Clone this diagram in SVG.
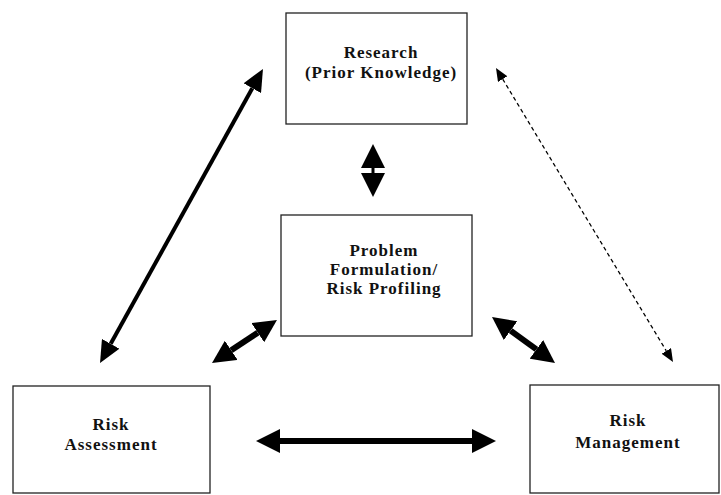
<svg xmlns="http://www.w3.org/2000/svg" width="721" height="495" viewBox="0 0 721 495">
<style>
.box{fill:#fff;stroke:#222;stroke-width:1.3}
.lbl{font-family:"Liberation Serif","Times New Roman",serif;font-weight:bold;font-size:17px;fill:#111;text-anchor:middle;letter-spacing:1px}
.c{stroke:#000;fill:none}
</style>
<defs>
<marker id="h20" markerUnits="userSpaceOnUse" viewBox="0 0 22 20" markerWidth="22" markerHeight="20" refX="0" refY="10" orient="auto-start-reverse"><path d="M0,0 L22,10 L0,20 z" fill="#000"/></marker>
<marker id="h12" markerUnits="userSpaceOnUse" viewBox="0 0 13 11" markerWidth="13" markerHeight="11" refX="0" refY="5.5" orient="auto-start-reverse"><path d="M0,0 L13,5.5 L0,11 z" fill="#000"/></marker>
<marker id="h22" markerUnits="userSpaceOnUse" viewBox="0 0 23 23" markerWidth="23" markerHeight="23" refX="0" refY="11.5" orient="auto-start-reverse"><path d="M0,0 L23,11.5 L0,23 z" fill="#000"/></marker>
<marker id="h24" markerUnits="userSpaceOnUse" viewBox="0 0 24 24" markerWidth="24" markerHeight="24" refX="0" refY="12" orient="auto-start-reverse"><path d="M0,0 L24,12 L0,24 z" fill="#000"/></marker>
</defs>
<rect width="721" height="495" fill="#fff"/>
<g id="research">
<rect class="box" x="286" y="13" width="181" height="111"/>
<text class="lbl" x="381" y="58">Research</text>
<text class="lbl" x="381" y="78">(Prior Knowledge)</text>
</g>
<g id="problem">
<rect class="box" x="281" y="215" width="191" height="121"/>
<text class="lbl" x="384" y="256">Problem</text>
<text class="lbl" x="384" y="275">Formulation/</text>
<text class="lbl" x="384" y="294">Risk Profiling</text>
</g>
<g id="assessment">
<rect class="box" x="13" y="386" width="197" height="107"/>
<text class="lbl" x="111" y="430">Risk</text>
<text class="lbl" x="111" y="450">Assessment</text>
</g>
<g id="management">
<rect class="box" x="530" y="385" width="189" height="108"/>
<text class="lbl" x="628" y="426">Risk</text>
<text class="lbl" x="628" y="448">Management</text>
</g>
<g id="connectors">
<line class="c" x1="110.7" y1="343.8" x2="252.3" y2="88.2" stroke-width="4" marker-start="url(#h20)" marker-end="url(#h20)"/>
<line class="c" x1="502.7" y1="79.1" x2="666.3" y2="350.9" stroke-width="1.3" stroke-dasharray="4 3" marker-start="url(#h12)" marker-end="url(#h12)"/>
<line class="c" x1="373" y1="168" x2="373" y2="173" stroke-width="3" marker-start="url(#h24)" marker-end="url(#h24)"/>
<line class="c" x1="231.2" y1="350.3" x2="257.8" y2="332.7" stroke-width="6" marker-start="url(#h22)" marker-end="url(#h22)"/>
<line class="c" x1="510.6" y1="330.6" x2="536.4" y2="349.4" stroke-width="6" marker-start="url(#h22)" marker-end="url(#h22)"/>
<line class="c" x1="280" y1="441" x2="472" y2="441" stroke-width="6" marker-start="url(#h24)" marker-end="url(#h24)"/>
</g>
</svg>
